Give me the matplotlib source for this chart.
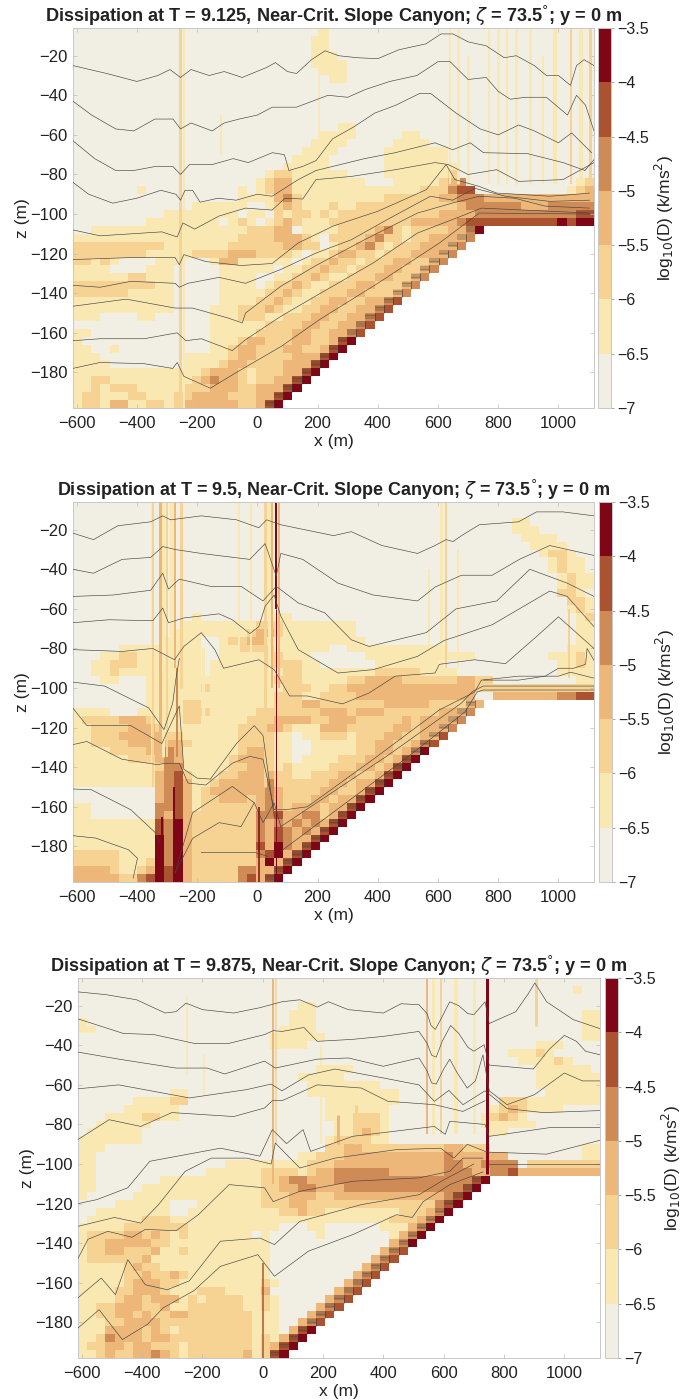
#!/usr/bin/env python3
# Dissipation panels: near-critical slope canyon
import numpy as np
import matplotlib
matplotlib.use("Agg")
import matplotlib.pyplot as plt
from matplotlib.colors import ListedColormap, BoundaryNorm

plt.rcParams['font.family'] = ['Liberation Sans', 'DejaVu Sans']

# colour classes of log10(D), 0 = -7..-6.5 up to 6 = -4..-3.5
bounds = [-7, -6.5, -6, -5.5, -5, -4.5, -4, -3.5]
tick_labels = ['\u22127', '\u22126.5', '\u22126', '\u22125.5', '\u22125', '\u22124.5', '\u22124', '\u22123.5']
colours = ['#f1efe3', '#f9e8b2', '#f6d393', '#ecb778', '#cf8b56', '#ab5330', '#7f0616']

titles = [r"Dissipation at T = 9.125, Near-Crit. Slope Canyon; $\zeta$ = 73.5$^{\degree}$; y = 0 m",
          r"Dissipation at T = 9.5, Near-Crit. Slope Canyon; $\zeta$ = 73.5$^{\degree}$; y = 0 m",
          r"Dissipation at T = 9.875, Near-Crit. Slope Canyon; $\zeta$ = 73.5$^{\degree}$; y = 0 m"]
title_sizes = [13.1, 12.95, 13.1]

# grid cells: 57 columns, 48 rows; number of wet columns per row below the shelf
row_lengths = [45, 44, 43, 42, 41, 40, 39, 38, 37, 36, 35, 34, 33, 32, 31, 30, 29, 28, 27, 26, 25, 24, 23]

field1 = [
"0000000000 0000000000 0000000100 0000000000 0000000000 0000000",
"0000000000 0000000000 0000001100 0000000000 0000000000 0000000",
"0000000000 0000000000 0000001100 0000000000 0000000000 0000000",
"0000000000 0000000000 0000001110 0000000000 0000000000 0000000",
"0000000000 0000000000 0000001111 0000000000 0000000000 0000000",
"0000000000 0000000000 0000000111 0000000000 0000000000 0000000",
"0000000000 0000000000 0000000011 0000000000 0000000000 0000000",
"0000000000 0000000000 0000000000 0000000000 0000000000 0000000",
"0000000000 0000000000 0000000000 0000000000 0000000000 0000000",
"0000000000 0000000000 0000000000 0000000000 0000000000 0000000",
"0000000000 0000000000 0000000000 0000000000 0000000000 0000000",
"0000000000 0000000000 0000000000 0000000000 0000000000 0000000",
"0000000000 0000000000 0000000001 1000000000 0000000000 0000000",
"0000000000 0000000000 0000000111 1000001100 0000000000 0000000",
"0000000000 0000000000 0000001111 0000011110 0000000000 0000000",
"0000000000 0000000000 0000011110 0000111111 1000000000 0000000",
"0000000000 0000000000 0000111100 0000111111 1000000000 0000000",
"0000000000 0000000000 0001111100 0000111111 1100000000 0000000",
"0000000000 0000000000 0122111111 0000111111 1200000000 0000000",
"0000000000 0000000000 1233111111 1100011111 2340000000 0000012",
"0000000100 0000000010 1233111111 1111111122 2455000000 0000123",
"0000000000 0000000011 1134211111 1111222222 3344433333 3333333",
"0000000000 0001111110 0123211121 1222222222 2234444443 3344444",
"0000000000 1111111101 1021221212 2222222222 3333444444 4444455",
"0000000011 1111110121 0123211122 2222222333 3345555555 5556566",
"0011111111 1111111112 2233011112 2223421222 23345",
"1111111111 1111111122 2233321022 2234221223 3345",
"2222222222 1111111222 2223322012 2342122233 344",
"2222222211 1112222333 2222101123 3221222333 34",
"2212100001 1100013311 1111012232 2122233223 4",
"1111000011 1000001111 1101122322 1222332234",
"1111112211 1000001111 0011223211 222332234",
"2222222221 1000001111 0122321122 23322234",
"2222221111 1000001111 1223211222 3322234",
"1111111111 1000001111 2232112233 223345",
"1111111111 1000011122 2321122332 23345",
"1110000110 0000011122 2112223322 3345",
"0000000000 0000011111 1222233223 456",
"1100000000 0000011111 2222332233 56",
"1000000000 0000011123 3222332234 5",
"1100100000 0000011233 2223322345",
"1110000000 0011111233 222233456",
"1111000000 0011112332 22233456",
"1111111111 1111233321 2223456",
"1122111111 1112343321 223456",
"1121222111 1122233322 33456",
"1221112211 1223333222 3456",
"1221331122 1233333322 356",
]

field2 = [
"0000000000 0000000000 0000000000 0000000000 0000000000 0000000",
"0000000000 0000000000 0000000000 0000000000 0000000000 0000000",
"0000000000 0000000000 0000000000 0000000000 0000000011 0000000",
"0000000000 0000000000 0000000000 0000000000 0000000011 1000000",
"0000000000 0000000000 0000000000 0000000000 0000000001 1110000",
"0000000000 0000000000 0000000000 0000000000 0000000000 1111000",
"0000000000 0000000000 0000000000 0000000000 0000000000 0122100",
"0000000000 0000000000 0000000000 0000000000 0000000000 0012110",
"0000000000 0000000000 0000000000 0000000000 0000000000 0012110",
"0000000000 0000000000 0000000000 0000000000 0000000000 0001211",
"0000000000 0000000000 0000000000 0000000000 0000000000 0001211",
"0000000000 0000000000 0000000000 0000000000 0000000000 0002210",
"0000000000 0000000000 0000000000 0000000000 0000000000 0000221",
"0000000000 0000000000 0000000000 0000000000 0000000000 0000121",
"0000000000 0001000000 0011000000 0000000000 0000000000 0000012",
"0000000000 0011111111 2221111111 1000000000 0000000000 0000011",
"0000000000 0111111112 3321111111 1000000000 0000000000 0000011",
"0000000000 1111001223 3111111111 1100000000 0000000000 0000011",
"0000011111 1111001122 2211111100 1111111111 1000000000 0000111",
"0001122111 1111001111 1221110000 0011111111 1111000000 0011121",
"0011222111 1111011111 1222211000 0001111111 0000000000 0001121",
"0011211111 1111011111 1112211111 1112222211 1100000000 0001111",
"0001100011 1111111111 1122211111 2233332222 2233220000 0000011",
"0000000011 1111211111 1112221122 3333333333 3333222222 2222222",
"0000000011 1111111111 1122211222 2333333333 3333003333 3334455",
"0000000011 1122111111 1122233222 2222333332 22233",
"1111000111 1122211111 2222222333 2333222222 3345",
"1222233321 1122111112 2233332233 3222223233 345",
"1122223332 1111111122 2332111333 2222233233 45",
"1122233333 2211111122 2211011222 1222332233 4",
"1122223333 3321111122 2211001111 1223322235",
"1111222233 4311111123 3211001111 122332345",
"1111112223 4311111233 3211011112 22332356",
"1111111112 4411111223 3212111122 2332356",
"1111111113 4521112233 3322112223 322356",
"1111111113 4531123333 3422222233 23356",
"0000000003 4531233333 3432222332 2356",
"0000000003 4531223332 3432223323 356",
"1100000004 4531222222 3432333233 46",
"1100000004 3532222222 4453344233 5",
"1111111115 4632222222 4343434336",
"1111111115 4632222222 435434356",
"1111111116 4632222222 43543456",
"1111111116 4632222222 5364356",
"2222211116 4632222222 456456",
"2222211126 4632222222 36456",
"3333211236 5632222244 3356",
"3333322456 5632222245 336",
]

field3 = [
"0000000000 0000000000 0000000000 0000000000 0000000000 0000000",
"0000000000 0000000000 0000000000 0000000000 0000000000 0000100",
"0000000000 0000000000 0000000000 0000000000 0000000000 0000000",
"0000000000 0000000000 0000110000 0000000000 0000000000 0000000",
"0000000000 0000000000 0001110000 0000000000 0000000000 0000011",
"1000000000 0000000000 0001110000 0000000000 0000000000 0000011",
"1100000000 0000000000 0011110000 0000000000 0000000000 0000011",
"0000000000 0000000000 0111111000 0000000000 0000000000 0000011",
"0000000000 0000000000 0111100000 0000000000 0000000000 1110000",
"0000000000 0000000000 0000000000 0000000000 0000000111 2100000",
"0000000000 0000000000 0000000000 0000000000 0000000011 1121000",
"0000000000 0000000000 0000001111 0000000000 0000000000 1111110",
"0000000000 0000000000 0000111110 0000000000 0000000000 1111111",
"0000000000 0000000000 0000011111 1110000000 0000000000 1111111",
"0000000000 1100000000 0000011111 1111100000 0000000000 0111111",
"0000001111 2200000000 0000000111 1111100000 0000002221 1111111",
"0000011111 1000000000 0000000111 1111000000 0000012321 1110000",
"0001111221 1000000000 0000000111 2221000000 0000123210 0000000",
"0011111100 0000000000 0000000011 2221000000 0000111111 0000000",
"0111111000 0000000000 0000000011 2321000000 0000011000 0000000",
"1111111000 0000000000 0000000122 2211000000 0000000000 0000000",
"1110000000 0000000000 0000000223 3222222222 3322200000 0000011",
"1100000000 0000000000 0000112223 3333333333 4333333000 0000011",
"1100000000 0000001111 1111122233 3333333333 4433444402 2222222",
"1100000000 0000111111 2222123344 4444333333 4443344533 3333333",
"1100000001 1111111111 2234433344 4444444444 44444",
"1100000111 1111111111 2233443334 4444444444 4444",
"1000001111 1111111111 2223332233 3333333333 333",
"0000111111 0001111111 2223322222 2222222222 22",
"0011111111 0011111111 1122322111 1111122222 2",
"0111111222 1111111111 1111111111 1111222222",
"1111122222 2211111111 1100011000 000111111",
"1222233232 1211111110 1000001000 00001111",
"1223333322 1111111111 1000000000 0000111",
"1223322231 1211111111 1000000000 000111",
"1222222311 1111111111 1000000000 00111",
"1111123221 1111111111 1000000000 0111",
"1111122322 3211111111 1000000000 111",
"1111123332 2111111111 2100000000 11",
"1111223332 1112221111 3000000000 1",
"1111233233 3121222211 2100000001",
"1122333223 1122222211 210000001",
"1122332322 3322222221 11000001",
"1112233332 2222222221 1100001",
"1113333232 1222222221 110000",
"1124333233 2222222221 21001",
"1223323322 2122222221 2100",
"1123223343 2122222231 210",
]

# last cells of every row under the shelf, from the open water towards the bed
edges1 = ["346", "34", "34", "34", "34", "234", "234", "234", "234", "345", "345",
          "345", "345", "345", "356", "356", "356", "356", "356", "356", "356", "356", "56"]
edges2 = ["33", "34", "34", "34", "35", "345", "346", "356", "356", "356", "356",
          "356", "356", "356", "356", "356", "356", "356", "356", "356", "356", "56", "56"]
edges3 = ["456", "456", "456", "456", "346", "346", "346", "346", "346", "345", "345",
          "345", "345", "345", "345", "345", "345", "345", "345", "356", "356", "356", "56"]

# vertical streaks: x, top z, bottom z, class, width in px
streaks1 = [(-258, -6, -198, 2, 3), (-244, -6, -198, 1, 2), (-120, -50, -70, 1, 2), (205, -6, -70, 1, 1.5),
            (640, -6, -85, 1, 2), (665, -6, -85, 1, 3), (700, -20, -85, 1, 3), (770, -6, -85, 1, 2), (800, -6, -85, 1, 3),
            (830, -6, -85, 1, 2), (860, -6, -85, 1, 3), (905, -6, -85, 1, 3), (950, -20, -85, 1, 2), (990, -6, -85, 1, 4),
            (1040, -6, -85, 2, 2), (1075, -6, -85, 1, 4), (1105, -6, -85, 2, 3)]
streaks2 = [(-350, -6, -150, 1, 3), (-345, -6, -150, 2, 2), (-322, -6, -135, 3, 3), (-312, -6, -135, 1, 3), (-300, -6, -135, 2, 2),
            (-285, -6, -100, 1, 3), (-272, -6, -90, 3, 2), (-268, -90, -135, 4, 2), (-255, -6, -100, 2, 3),
            (-315, -165, -198, 6, 2), (-275, -150, -198, 6, 2),
            (-60, -6, -100, 1, 2), (-20, -6, -100, 1, 2), (25, -6, -150, 2, 3),
            (40, -6, -100, 1, 3), (50, -6, -100, 3, 2), (62, -6, -60, 6, 2), (62, -60, -198, 6, 1), (72, -6, -100, 3, 2),
            (5, -160, -198, 6, 1.5), (570, -40, -90, 1, 2),
            (610, -6, -90, 1, 3), (625, -6, -90, 2, 2), (665, -30, -90, 1, 2), (-100, -90, -140, 1, 3),
            (-180, -80, -140, 1, 3), (1035, -60, -95, 2, 2)]
streaks3 = [(-250, -15, -55, 1, 1.5), (-195, -45, -65, 1, 1.5), (35, -6, -110, 3, 2), (45, -6, -90, 2, 1.5),
            (195, -40, -90, 1, 2), (545, -6, -85, 3, 2), (565, -6, -85, 1, 3), (590, -6, -85, 2, 2),
            (640, -6, -85, 1, 4), (700, -6, -85, 1, 3), (745, -6, -105, 6, 3), (905, -6, -30, 2, 3),
            (0, -150, -198, 5, 1.5), (250, -75, -90, 3, 3), (310, -70, -90, 2, 3)]

# contour lines as x, z pairs
lines1 = [
 [(-612,-25),(-500,-29),(-400,-33),(-330,-30),(-290,-27),(-255,-31),(-220,-27),(-160,-30),(-110,-28),(-50,-31),(30,-26),(60,-23.5),(100,-28),(130,-29),(180,-22),(225,-17.5),(270,-20),(330,-21),(400,-21.5),(470,-17),(560,-14),(610,-9),(650,-9),(700,-13),(760,-15),(820,-21),(860,-20),(920,-25),(960,-30),(1000,-30),(1040,-35),(1060,-25),(1085,-22),(1118,-25)],
 [(-612,-43),(-550,-50),(-470,-57),(-410,-58),(-340,-52),(-280,-52),(-255,-57),(-220,-54),(-150,-58),(-110,-54),(-60,-52),(0,-50),(50,-46),(130,-46),(200,-42),(235,-40),(300,-41),(360,-37),(440,-33),(530,-30),(600,-23),(640,-23),(700,-32),(760,-31),(800,-38),(840,-42),(890,-41),(960,-41),(1030,-50),(1060,-40),(1090,-45),(1118,-58)],
 [(-612,-63),(-540,-72),(-470,-78),(-410,-78),(-340,-76),(-280,-76),(-255,-80),(-225,-75),(-150,-75),(-80,-72),(-30,-74),(50,-69),(90,-70),(105,-78),(150,-76),(195,-73),(250,-62),(320,-56),(390,-49),(460,-45),(540,-39),(575,-39),(660,-49),(740,-57),(800,-60),(868,-55),(920,-58),(1000,-64),(1044,-59),(1110,-69)],
 [(-612,-84),(-560,-90),(-480,-94.5),(-400,-92),(-320,-88),(-270,-90),(-255,-93),(-240,-88),(-215,-88),(-190,-94),(-130,-92),(-70,-93),(0,-90),(49,-91),(136,-82.6),(195,-78),(356,-72),(458,-69),(590,-64),(649,-67.5),(707,-64),(751,-69),(898,-69.5),(1015,-74),(1088,-78),(1118,-72.5)],
 [(-613,-108),(-522,-111),(-317,-109),(-266,-111.6),(-247,-104.5),(-208,-107.6),(-127,-101),(-39,-97),(49,-98),(92,-92),(151,-92.4),(195,-82.6),(312,-81),(458,-77.6),(590,-74),(634,-75),(700,-80),(795,-77.6),(868,-83.5),(1015,-82.6),(1118,-74)],
 [(-613,-123),(-420,-122),(-273,-122),(-259,-125.6),(-244,-120.5),(-171,-124),(-54,-126),(49,-125),(136,-114.6),(253,-106),(400,-98.6),(561,-87.7),(627,-75),(656,-82.6),(736,-86),(795,-89.4),(971,-91),(1060,-90),(1103,-89.4)],
 [(-613,-136),(-522,-137),(-420,-134),(-273,-135),(-259,-137),(-230,-135),(-127,-132),(-39,-135),(78,-128),(195,-119.7),(312,-113),(429,-103),(575,-91),(649,-93),(722,-87),(824,-91),(971,-93.6),(1103,-93)],
 [(-613,-146.6),(-435,-143),(-273,-147.5),(-215,-147.5),(-98,-152.5),(-50,-155),(-39,-150),(78,-136.5),(195,-126),(356,-113),(532,-99.5),(649,-94.4),(737,-91),(854,-92),(956,-96),(1103,-97)],
 [(-613,-164),(-522,-163),(-376,-163),(-266,-160),(-237,-164),(-186,-163),(-83,-169),(-39,-163.5),(78,-151.7),(210,-140),(385,-124.7),(532,-109.6),(678,-101),(744,-97),(1103,-99.5)],
 [(-613,-178),(-522,-175),(-376,-175.6),(-281,-178),(-266,-175),(-244,-182),(-156,-188),(-69,-180),(78,-167),(210,-153),(400,-135),(605,-114.6),(737,-99.5),(1103,-100)],
]

lines2 = [
 [(-613,-21.7),(-544,-25),(-463,-18),(-354,-16),(-314,-13),(-288,-15),(-186,-13),(-69,-15),(5,-19),(31,-15),(78,-17.5),(253,-23),(312,-21),(414,-28),(532,-32),(590,-28),(627,-25),(650,-26),(678,-23),(737,-17.5),(868,-16),(927,-11),(1015,-11),(1118,-13)],
 [(-613,-40),(-544,-42),(-449,-35),(-354,-34),(-314,-28.5),(-273,-30),(-186,-32),(-25,-35),(26,-27),(63,-43.5),(78,-32),(151,-35),(268,-47),(385,-53),(532,-56),(590,-49),(678,-43),(780,-43),(870,-35),(971,-28),(1118,-33)],
 [(-613,-53.7),(-479,-53),(-354,-50.6),(-314,-42),(-295,-50),(-259,-45),(-156,-48.6),(-54,-48.6),(19,-56),(63,-48.6),(136,-57),(224,-62),(312,-75.6),(371,-79),(561,-72),(660,-60),(795,-56),(905,-40),(1029,-47),(1118,-53.7)],
 [(-613,-67),(-493,-65.5),(-347,-66),(-314,-59.6),(-295,-67),(-244,-64.6),(-127,-62.5),(-83,-65.5),(-25,-72.5),(5,-69),(26,-58.7),(56,-53),(78,-63.7),(136,-80.6),(268,-92.4),(385,-90.7),(532,-84),(620,-76),(780,-68),(971,-51),(1029,-53.7),(1118,-69)],
 [(-613,-80.6),(-449,-81.5),(-347,-80),(-275,-85.7),(-244,-79),(-186,-72),(-141,-80.6),(-112,-90),(5,-85.7),(56,-90.7),(107,-104),(166,-104),(283,-108),(371,-102.5),(458,-94),(590,-92.4),(605,-88),(722,-85.7),(824,-87.7),(927,-74),(1000,-64),(1118,-80)],
 [(-613,-97),(-507,-99),(-361,-110),(-310,-121),(-281,-107.6),(-270,-95),(-259,-85)],
 [(-613,-110),(-566,-119),(-420,-119),(-317,-128),(-259,-109),(-244,-141),(-200,-145.5),(-156,-146),(-69,-128),(-10,-119),(19,-124),(56,-165)],
 [(-613,-128.6),(-566,-127),(-449,-136),(-332,-138.7),(-305,-138),(-259,-138),(-230,-148),(-171,-149),(-83,-138),(-25,-134.5),(19,-136),(56,-161.5),(92,-161.5)],
 [(-613,-151),(-551,-151.4),(-420,-161.5),(-339,-173),(-325,-178)],
 [(-273,-193.4),(-215,-163),(-83,-149.7),(-10,-158),(19,-168),(56,-158),(78,-170)],
 [(-613,-174.6),(-537,-175.8),(-428,-181.7),(-398,-186),(-412,-196)],
 [(-273,-193.4),(-215,-176),(-127,-168),(-54,-170),(-10,-158)],
 [(-186,-183),(-10,-183),(34,-185)],
 [(92,-161.5),(166,-160),(385,-136),(605,-111),(722,-102),(744,-96),(868,-94),(1000,-94),(1040,-92),(1118,-95)],
 [(78,-170),(429,-134.5),(678,-107.6),(715,-101.7),(750,-99),(1118,-99)],
 [(78,-182.5),(502,-134.5),(690,-112),(730,-102),(750,-101),(1118,-101)],
 [(751,-96),(868,-96),(956,-94),(1000,-90),(1050,-90),(1090,-88),(1095,-80),(1118,-86)],
]

lines3 = [
 [(-613,-13),(-520,-14.4),(-418,-17),(-323,-23.7),(-287,-23),(-254,-18.7),(-199,-22),(-96,-23.7),(-9,-21),(64,-18),(123,-17),(181,-20.7),(218,-18),(284,-22),(400,-23.7),(459,-19),(518,-19.5),(545,-24),(558,-30),(572,-32),(590,-27),(620,-18),(650,-20),(680,-24),(700,-24.5),(737,-18),(751,-29),(839,-23),(880,-14),(902,-8.5),(925,-14),(941,-18),(1029,-27),(1118,-31.6)],
 [(-613,-26.6),(-462,-34),(-360,-34.6),(-228,-39),(-111,-39),(6,-34.6),(35,-32.6),(64,-33),(137,-31),(181,-38),(298,-37),(400,-35.5),(518,-33),(545,-39),(560,-45),(575,-46),(595,-38),(623,-30),(650,-34),(680,-41),(700,-43),(734,-39.7),(751,-50),(897,-52),(950,-42),(1000,-35),(1040,-38),(1070,-43),(1118,-44.8)],
 [(-613,-43.4),(-477,-47),(-287,-51.5),(-184,-51.5),(-126,-54.5),(6,-48),(42,-51.5),(181,-47),(284,-46.4),(400,-50.6),(518,-46.4),(545,-53),(560,-59),(575,-59.6),(600,-52),(620,-47),(645,-54),(678,-61.6),(705,-58),(730,-44.8),(751,-63),(810,-70),(900,-65),(1000,-54),(1060,-58),(1118,-58)],
 [(-613,-62),(-477,-60),(-243,-66.6),(-53,-62.4),(28,-59.6),(64,-63),(152,-55),(240,-52),(400,-56.5),(518,-60),(569,-68.3),(617,-62.8),(664,-70),(737,-63),(810,-72),(930,-74),(1118,-73)],
 [(-613,-87.7),(-509,-77.6),(-404,-81),(-301,-74),(-96,-76),(6,-71.7),(32,-68),(64,-68),(181,-60),(327,-61.6),(415,-68.3),(569,-70),(664,-73.4),(737,-68)],
 [(-613,-120),(-550,-118),(-447,-112),(-374,-98.6),(-257,-95.3),(-140,-92),(-9,-96),(32,-82.6),(79,-89.7),(134,-82.6),(159,-93.6),(298,-86),(569,-81),(605,-85),(620,-78.4),(737,-80),(751,-86),(956,-81.5),(1118,-81.5)],
 [(-613,-131.5),(-491,-127),(-404,-129.8),(-345,-120.5),(-257,-103.7),(-170,-97),(-53,-97),(28,-100),(42,-89.4),(123,-102),(240,-97),(444,-92.7),(590,-92),(634,-97),(678,-90),(737,-93.6),(751,-94),(941,-95),(1118,-88)],
 [(-613,-148),(-579,-138),(-513,-134),(-433,-137),(-389,-133),(-287,-133.7),(-213,-125.6),(-111,-110.4),(6,-112),(35,-119),(123,-113.8),(298,-108.7),(518,-107),(620,-103.7),(664,-97),(730,-97)],
 [(-613,-167.7),(-535,-157.6),(-488,-166),(-447,-148.3),(-389,-161),(-316,-163.5),(-243,-159),(-140,-139),(-9,-137.4),(39,-140.7),(123,-129),(327,-120.5),(518,-115.5),(600,-108),(700,-100)],
 [(-613,-183),(-542,-173.6),(-465,-188.7),(-382,-181),(-330,-172.7),(-228,-164),(-140,-151.7),(-16,-145.8),(39,-156.7),(152,-144),(298,-135.7),(444,-125.6),(496,-127),(532,-119),(620,-110.4),(730,-104)],
 [(751,-100),(1118,-100)],
]

# pixel boxes of the panels: left, right, top, bottom; colour bar left, right
boxes = [(73, 594, 28, 408, 598, 611),
         (73, 594, 502, 882, 599, 612),
         (78, 600, 978, 1358, 605, 618)]

x_edges = np.linspace(-612, 1118, 58)
z_edges = np.linspace(-6, -198, 49)
cmap = ListedColormap(colours)
cmap.set_bad('white')
norm = BoundaryNorm(bounds, cmap.N)
level_mid = [-6.75, -6.25, -5.75, -5.25, -4.75, -4.25, -3.75]


def build_field(rows, edges):
    data = np.full((48, 57), np.nan)
    for j, row in enumerate(rows):
        row = row.replace(" ", "")
        n = 57 if j < 25 else row_lengths[j - 25]
        row = (row + row[-1] * 57)[:n]
        if j >= 25:
            edge = edges[j - 25]
            row = row[:n - len(edge)] + edge
        for i, ch in enumerate(row):
            data[j, i] = level_mid[int(ch)]
    return np.ma.masked_invalid(data)


fields = [field1, field2, field3]
all_edges = [edges1, edges2, edges3]
all_streaks = [streaks1, streaks2, streaks3]
all_lines = [lines1, lines2, lines3]

fig = plt.figure(figsize=(6.88, 14), dpi=100)

for k, box in enumerate(boxes):
    l, r, t, b, cl, cr = box
    ax = fig.add_axes([l / 688, 1 - b / 1400, (r - l) / 688, (b - t) / 1400])
    data = build_field(fields[k], all_edges[k])
    ax.pcolormesh(x_edges, z_edges, data, cmap=cmap, norm=norm, rasterized=True)

    for sx, z1, z2, lev, w in all_streaks[k]:
        ax.vlines(sx, z2, z1, colors=colours[lev], lw=w * 0.72, zorder=2)

    # short lines on the steps of the bed
    for j, n in enumerate(row_lengths):
        step_top = z_edges[25 + j]
        for off in [0.8, 1.6, 2.4]:
            ax.hlines(step_top - off, x_edges[n - 2], x_edges[n - 1], colors='#333333', lw=0.35, zorder=3)
        ax.vlines(x_edges[n - 1], step_top, step_top - 4, colors='#333333', lw=0.4, zorder=3)

    for line in all_lines[k]:
        xs = [p[0] for p in line]
        zs = [p[1] for p in line]
        ax.plot(xs, zs, color='#444444', lw=0.45, zorder=4, solid_joinstyle='round')

    ax.set_xlim(-612, 1118)
    ax.set_ylim(-198, -6)
    ax.set_xticks(range(-600, 1001, 200))
    ax.set_yticks(range(-180, -19, 20))
    ax.tick_params(direction='in', length=3, width=0.5, color='#bbbbbb', top=True, right=True,
                   labelsize=12, labelcolor='#222222', pad=4)
    ax.tick_params(axis='x', pad=6)
    for s in ax.spines.values():
        s.set_color('#c8c8c8')
        s.set_linewidth(0.7)
    ax.set_xlabel("x (m)", fontsize=12.5, labelpad=2, color='#222222')
    ax.set_ylabel("z (m)", fontsize=12.5, labelpad=0, color='#222222')
    ax.set_title(titles[k], fontsize=title_sizes[k], fontweight='bold', pad=4, color='#222222')

    cax = fig.add_axes([cl / 688, 1 - b / 1400, (cr - cl) / 688, (b - t) / 1400])
    sm = plt.cm.ScalarMappable(norm=norm, cmap=cmap)
    cb = fig.colorbar(sm, cax=cax, ticks=bounds, spacing='uniform')
    cb.ax.set_yticklabels(tick_labels)
    cb.ax.tick_params(labelsize=11.5, length=2.5, width=0.5, color='#888888', labelcolor='#222222', pad=2)
    cb.outline.set_edgecolor('#c8c8c8')
    cb.outline.set_linewidth(0.7)
    cb.set_label(r"log$_{10}$(D) (k/ms$^2$)", fontsize=12.5, labelpad=3, color='#222222')

plt.savefig("out.png", dpi=100)
